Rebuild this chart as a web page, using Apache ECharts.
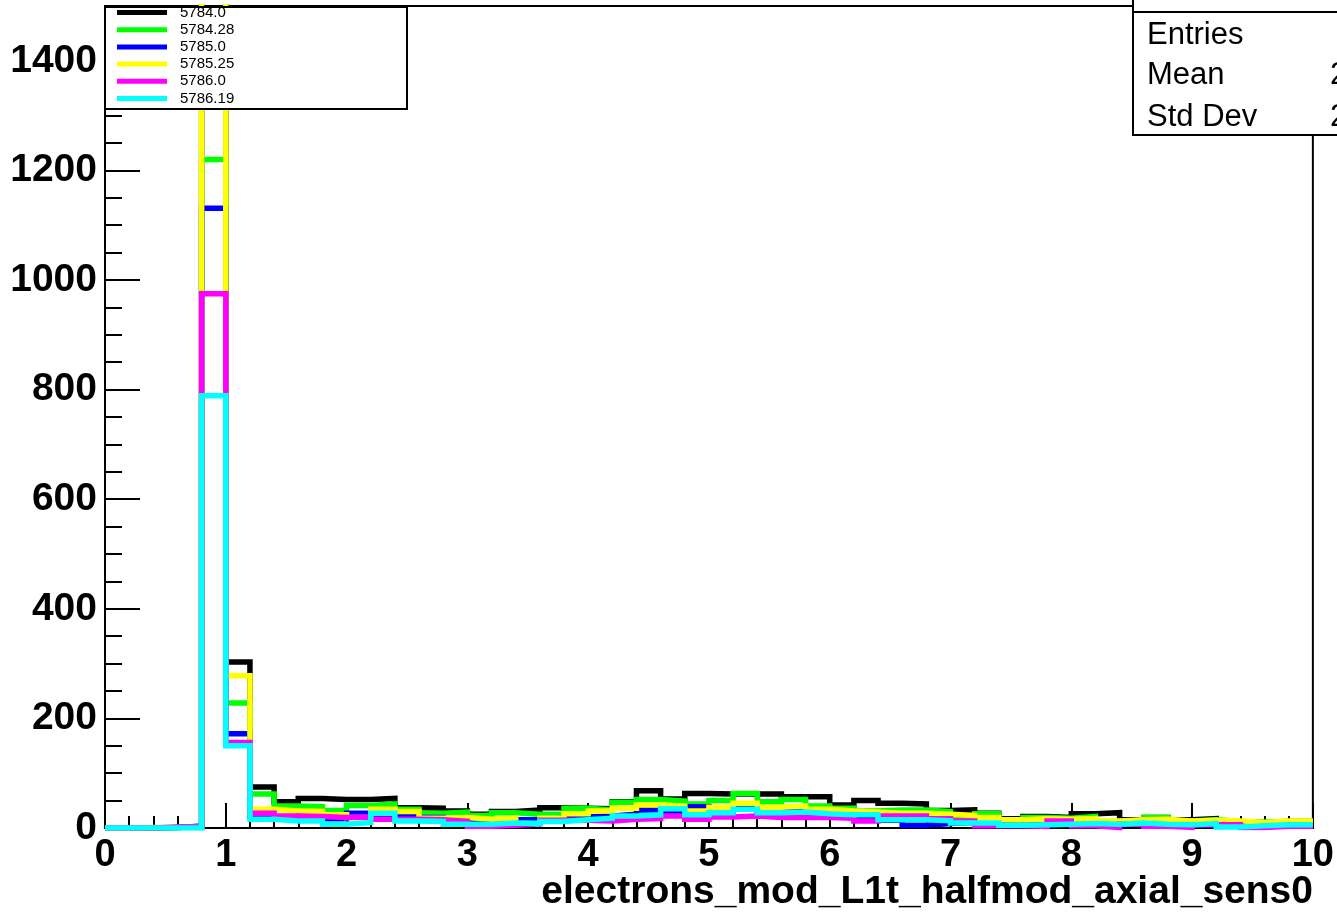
<!DOCTYPE html>
<html>
<head>
<meta charset="utf-8">
<script src="https://cdn.jsdelivr.net/npm/echarts@6/dist/echarts.min.js"></script>
<style>
html,body{margin:0;padding:0;background:#fff;}
#chart{width:1337px;height:912px;}
</style>
</head>
<body>
<div id="chart"></div>
<script>
// ---- data (bin contents, 50 bins of width 0.2 from 0 to 10) ----
const runNames = ['5784.0', '5784.28', '5785.0', '5785.25', '5786.0', '5786.19'];
const runColors = ['#000000', '#00ff00', '#0000ff', '#ffff00', '#ff00ff', '#00ffff'];
const xMin = 0, xMax = 10, binWidth = 0.2;
const xTickLabels = ['0','1','2','3','4','5','6','7','8','9','10'];
const yTickLabels = ['0','200','400','600','800','1000','1200','1400'];

const run5784_0 = [0,0,1,3,1700,303,75,48,54,52,52,54,37,36,31,25,30,33,37,36,35,48,68,53,63,62,62,62,57,57,42,50,45,44,32,33,27,17,21,19,26,28,15,19,15,17,12,10,12,12];
const run5784_28 = [0,0,1,2,1220,228,62,40,39,32,41,44,34,27,29,23,28,25,25,36,33,47,52,49,44,50,63,48,52,40,36,31,33,33,30,21,26,15,19,18,21,12,12,19,13,15,12,11,12,13];
const run5785_0 = [0,0,1,3,1131,172,22,18,22,17,27,22,24,19,14,11,15,15,18,20,22,25,33,27,39,30,35,30,32,22,20,18,14,5,8,10,6,5,6,7,9,6,8,6,5,7,5,4,6,6];
const run5785_25 = [0,1,1,2,1600,278,34,31,30,24,19,34,30,18,19,16,18,8,18,26,31,36,42,40,31,38,45,38,40,34,31,29,27,27,25,23,19,15,17,16,17,13,15,16,13,14,13,10,13,13];
const run5786_0 = [0,0,2,1,975,156,27,22,21,19,20,16,16,15,12,3,5,8,14,14,13,16,17,22,16,20,22,19,19,19,18,13,22,22,17,13,4,4,3,13,4,1,7,3,1,6,6,1,3,3];
const run5786_19 = [0,0,0,0,789,150,16,13,13,7,10,27,13,12,7,7,9,8,12,15,18,22,24,35,24,28,34,28,29,26,24,24,15,15,13,9,9,5,6,7,8,7,9,7,6,8,2,4,6,6];

const runValues = [run5784_0, run5784_28, run5785_0, run5785_25, run5786_0, run5786_19];
const xTitle = 'electrons_mod_L1t_halfmod_axial_sens0';
const statsLabels = ['Entries', 'Mean', 'Std Dev'];

// ---- build histogram outlines (points at bin low edges, step drawn by library) ----
function histPoints(vals) {
  const pts = vals.map((v, i) => [xMin + i * binWidth, v]);
  pts.push([xMax, vals[vals.length - 1]]);
  return pts;
}

const FONT = 'Liberation Sans, Arial, Helvetica, sans-serif';
const chart = echarts.init(document.getElementById('chart'));

const series = runNames.map((name, k) => ({
  name: name,
  type: 'line',
  step: 'end',
  showSymbol: false,
  symbol: 'none',
  color: runColors[k],
  lineStyle: { color: runColors[k], width: 5.5, join: 'miter', cap: 'butt' },
  itemStyle: { color: runColors[k] },
  data: histPoints(runValues[k]),
  clip: true,
  z: 2
}));

chart.setOption({
  animation: false,
  backgroundColor: '#fff',
  grid: {
    left: 105, right: 23, top: 6, bottom: 84,
    show: true, borderColor: '#000', borderWidth: 2, backgroundColor: 'transparent'
  },
  xAxis: {
    type: 'value', min: xMin, max: xMax, interval: 1,
    axisLine: { show: true, lineStyle: { color: '#000', width: 2 } },
    axisTick: { show: true, inside: true, length: 25, lineStyle: { color: '#000', width: 2 } },
    minorTick: { show: true, splitNumber: 5, length: 12, lineStyle: { color: '#000', width: 2 } },
    splitLine: { show: false },
    axisLabel: {
      margin: 9, color: '#000', fontFamily: FONT, fontWeight: 'bold', fontSize: 38,
      formatter: v => xTickLabels[Math.round(v)] !== undefined ? xTickLabels[Math.round(v)] : ''
    }
  },
  yAxis: {
    type: 'value', min: 0, max: 1500, interval: 200,
    axisLine: { show: true, lineStyle: { color: '#000', width: 2 } },
    axisTick: { show: true, inside: true, length: 35, lineStyle: { color: '#000', width: 2 } },
    minorTick: { show: true, splitNumber: 4, length: 17, lineStyle: { color: '#000', width: 2 } },
    splitLine: { show: false },
    axisLabel: {
      margin: 8, color: '#000', fontFamily: FONT, fontWeight: 'bold', fontSize: 39,
      padding: [6, 0, 0, 0],
      showMaxLabel: false,
      formatter: v => (v % 200 === 0 && yTickLabels[v / 200] !== undefined) ? yTickLabels[v / 200] : ''
    }
  },
  legend: {
    data: runNames,
    orient: 'vertical',
    left: 117, top: 5,
    padding: 0,
    itemGap: 2.2,
    itemWidth: 50, itemHeight: 5,
    icon: 'rect',
    z: 10,
    textStyle: { color: '#000', fontFamily: FONT, fontSize: 15, lineHeight: 15, padding: [0, 0, 0, 8] }
  },
  graphic: [
    { type: 'rect', z: 3, shape: { x: 150, y: -10, width: 120, height: 14 },
      style: { fill: '#fff', lineWidth: 0 } },
    { type: 'rect', z: 3, shape: { x: 105, y: 7, width: 302, height: 102 },
      style: { fill: '#fff', stroke: '#000', lineWidth: 2 } },
    { type: 'rect', z: 3, shape: { x: 1133, y: -20, width: 260, height: 155 },
      style: { fill: '#fff', stroke: '#000', lineWidth: 2 } },
    { type: 'line', z: 4, shape: { x1: 1133, y1: 12, x2: 1337, y2: 12 },
      style: { stroke: '#000', lineWidth: 2 } },
    { type: 'text', z: 4, style: { text: statsLabels[0], x: 1147, y: 35, textVerticalAlign: 'middle', font: '31px ' + FONT, fill: '#000' } },
    { type: 'text', z: 4, style: { text: statsLabels[1], x: 1147, y: 75, textVerticalAlign: 'middle', font: '31px ' + FONT, fill: '#000' } },
    { type: 'text', z: 4, style: { text: statsLabels[2], x: 1147, y: 117, textVerticalAlign: 'middle', font: '31px ' + FONT, fill: '#000' } },
    { type: 'text', z: 4, style: { text: '2', x: 1330, y: 75, textVerticalAlign: 'middle', font: '31px ' + FONT, fill: '#000' } },
    { type: 'text', z: 4, style: { text: '2', x: 1330, y: 117, textVerticalAlign: 'middle', font: '31px ' + FONT, fill: '#000' } },
    { type: 'text', z: 4, style: { text: xTitle, x: 1313, y: 892, textAlign: 'right', textVerticalAlign: 'middle', font: 'bold 39px ' + FONT, fill: '#000' } }
  ],
  series: series
});
</script>
</body>
</html>
